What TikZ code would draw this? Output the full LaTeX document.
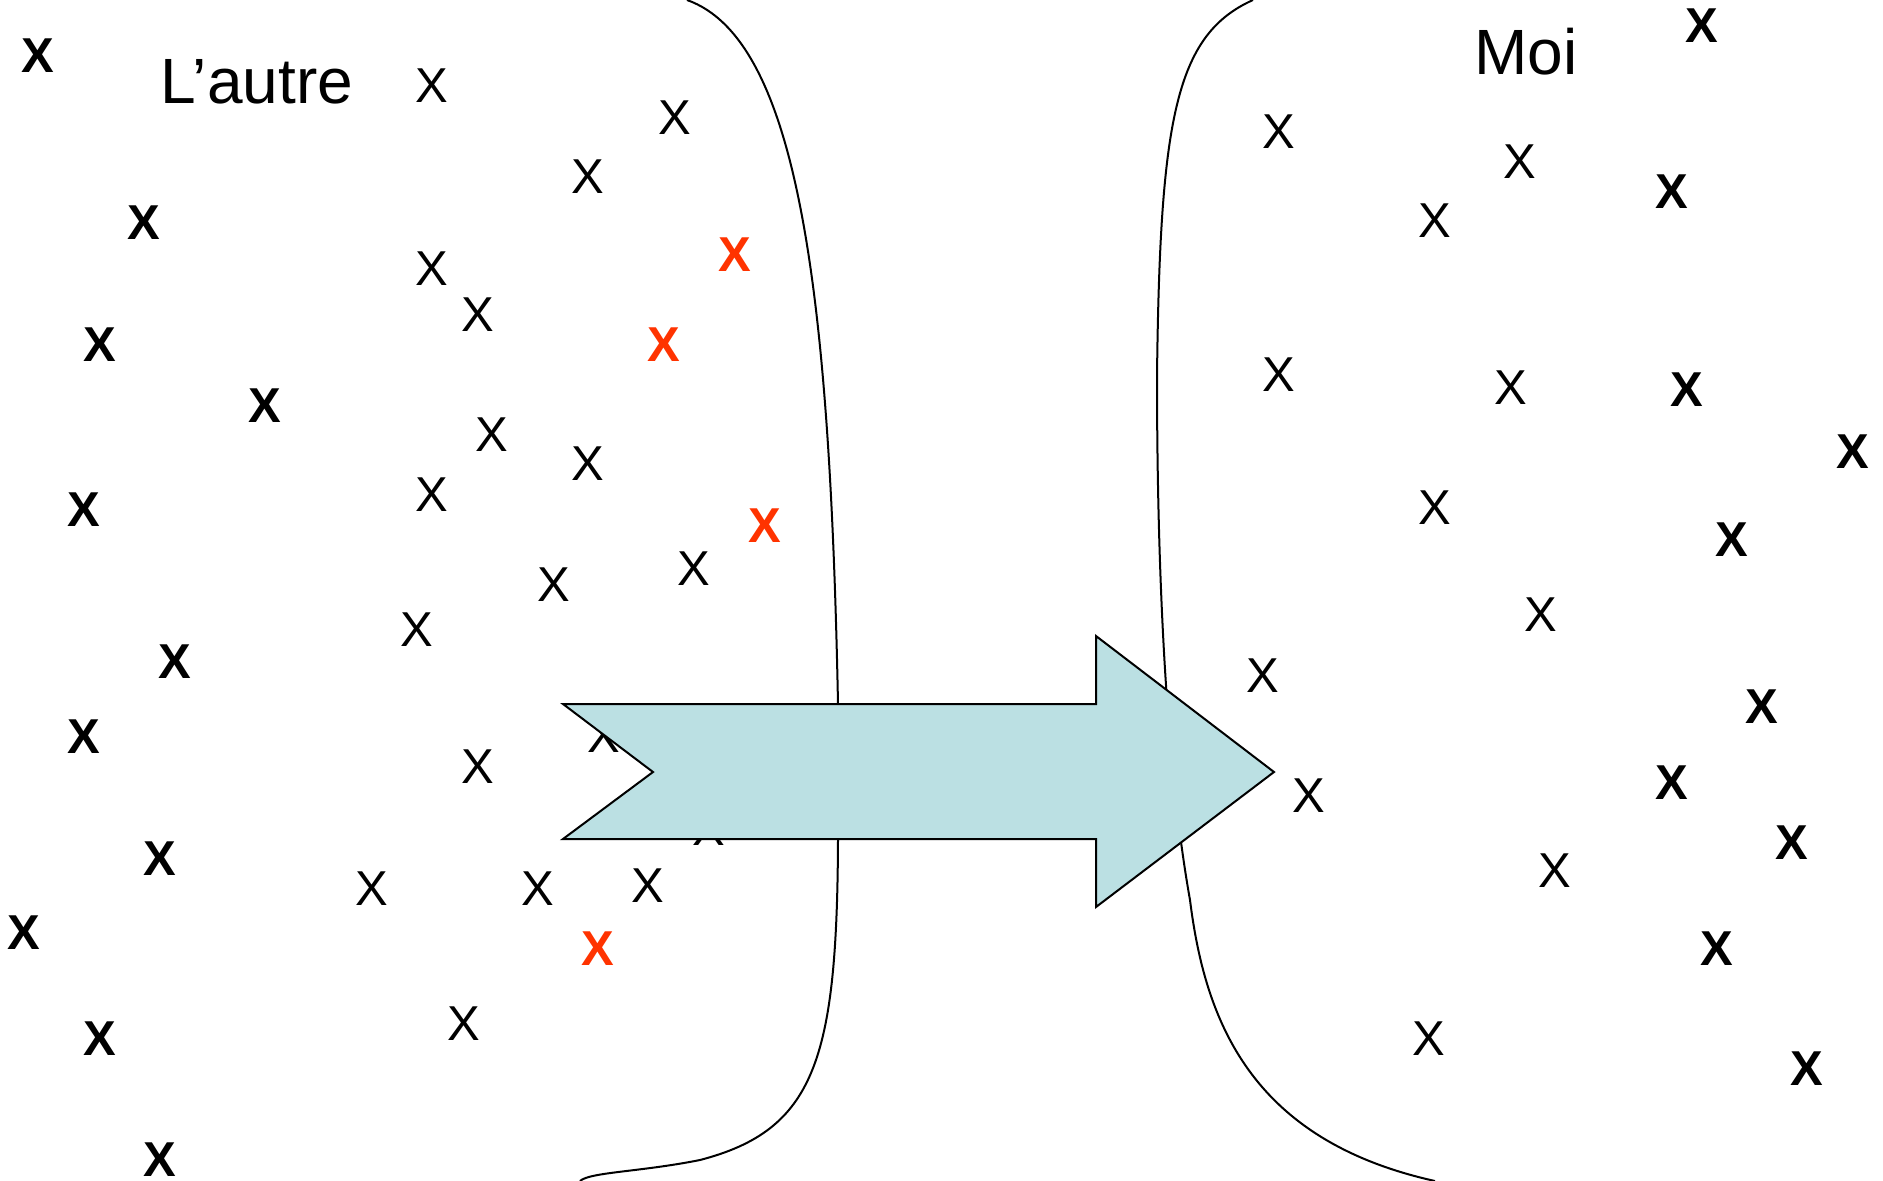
\documentclass[tikz,border=0pt]{standalone}
\usepackage{fontspec}
\setmainfont{Liberation Sans}
\definecolor{arrowfill}{HTML}{BBE0E3}
\definecolor{xred}{HTML}{FF3300}
\begin{document}
\begin{tikzpicture}[x=1pt,y=-1pt,
  xn/.style={font=\fontsize{49}{49}\selectfont, inner sep=0pt},
  xb/.style={font=\fontsize{49}{49}\selectfont\bfseries, inner sep=0pt},
  xr/.style={xb, text=xred},
  lbl/.style={font=\fontsize{64}{64}\selectfont, inner sep=0pt},
  boundary/.style={line width=2pt},
  bigarrow/.style={fill=arrowfill, draw=black, line width=2pt, line join=miter}]
\useasboundingbox (0,0) rectangle (1883,1181);
\fill[white] (0,0) rectangle (1883,1181);
% boundaries
\draw[boundary] (687,0) .. controls (800,40) and (830,300) .. (838,704)
  -- (838,840) .. controls (837,1060) and (815,1130) .. (700,1160)
  .. controls (640,1172) and (590,1172) .. (580,1181);
\draw[boundary] (1253,0) .. controls (1175,35) and (1160,120) .. (1157,376)
  .. controls (1157,560) and (1165,760) .. (1190,900)
  .. controls (1205,1020) and (1250,1140) .. (1435,1181);
% normal X
\foreach \px/\py [count=\i] in {432/86, 675/118, 588/177, 432/269, 478/315, 492/435, 588/464, 432/495, 694/569, 554/585, 417/630, 604/736, 478/767, 709/829, 372/889, 538/889, 648/886, 464/1024, 1279/132, 1520/162, 1435/221, 1279/375, 1511/388, 1435/508, 1541/615, 1263/676, 1309/796, 1555/871, 1429/1039}
  \node[xn] (n\i) at (\px,\py) {X};
% bold X
\foreach \px/\py [count=\i] in {38/56, 144/223, 100/345, 265/406, 84/510, 175/662, 84/737, 160/859, 24/933, 100/1039, 160/1160, 1702/26, 1672/192, 1687/390, 1853/452, 1732/540, 1762/707, 1672/783, 1792/843, 1717/949, 1807/1069}
  \node[xb] (b\i) at (\px,\py) {X};
% red X
\foreach \px/\py [count=\i] in {735/255, 664/345, 765/526, 598/949}
  \node[xr] (r\i) at (\px,\py) {X};
% arrow
\draw[bigarrow] (563,704) -- (1096,704) -- (1096,636) -- (1274,772) -- (1096,907)
  -- (1096,839) -- (563,839) -- (653,772) -- cycle;
% labels
\node[lbl] (autre) at (257,82) {L’autre};
\node[lbl] (moi) at (1526,52) {Moi};
\end{tikzpicture}
\end{document}
